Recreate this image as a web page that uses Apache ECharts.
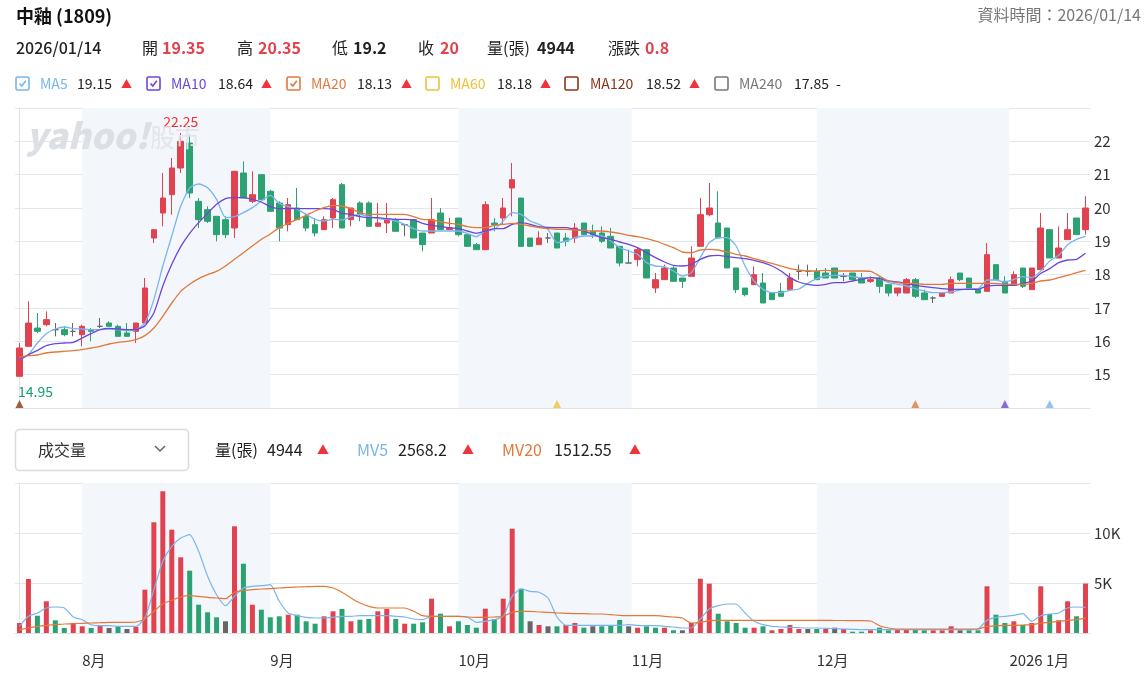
<!DOCTYPE html>
<html>
<head>
<meta charset="utf-8">
<title>中釉 (1809)</title>
<script src="https://cdn.jsdelivr.net/npm/echarts@6/dist/echarts.min.js"></script>
<style>
  html, body { margin: 0; padding: 0; background: #fff; }
  #main { width: 1147px; height: 687px; }
</style>
</head>
<body>
<div id="main"></div>
<script>
// trading days by month
var julDays = [23, 24, 25, 28, 29, 30, 31];
var augDays = [1, 4, 5, 6, 7, 8, 11, 12, 13, 14, 15, 18, 19, 20, 21, 22, 25, 26, 27, 28, 29];
var sepDays = [1, 2, 3, 4, 5, 8, 9, 10, 11, 12, 15, 16, 17, 18, 19, 22, 23, 24, 25, 26, 30];
var octDays = [1, 2, 3, 7, 8, 9, 13, 14, 15, 16, 17, 20, 21, 22, 23, 27, 28, 29, 30, 31];
var novDays = [3, 4, 5, 6, 7, 10, 11, 12, 13, 14, 17, 18, 19, 20, 21, 24, 25, 26, 27, 28];
var decDays = [1, 2, 3, 4, 5, 8, 9, 10, 11, 12, 15, 16, 17, 18, 19, 22, 23, 24, 26, 29, 30, 31];
var janDays = [2, 5, 6, 7, 8, 9, 12, 13, 14];

// month ticks along the bottom
var monthTicks = [[2025, 8, '8月'], [2025, 9, '9月'], [2025, 10, '10月'], [2025, 11, '11月'], [2025, 12, '12月'], [2026, 1, '2026 1月']];
var shadedMonths = [[2025, 8], [2025, 10], [2025, 12]];

var opens = [14.95, 15.85, 16.4, 16.5, 16.35, 16.35, 16.3, 16.2, 16.35, 16.45,
  16.55, 16.45, 16.25, 16.3, 16.55, 19.1, 19.85, 20.4, 21.2, 21.95,
  20.2, 19.95, 19.75, 19.65, 19.4, 21.05, 20.2, 21.0, 20.5, 20.15,
  19.5, 20.0, 19.75, 19.5, 19.35, 19.7, 20.7, 19.65, 20.15, 20.15,
  19.45, 19.55, 19.65, 19.5, 19.65, 19.25, 19.25, 19.85, 19.35, 19.7,
  19.2, 18.9, 18.75, 19.55, 19.7, 20.6, 20.3, 19.1, 18.9, 19.1,
  19.25, 19.1, 19.1, 19.55, 19.3, 19.25, 19.15, 18.85, 18.35, 18.45,
  18.75, 17.6, 17.85, 18.2, 17.9, 17.95, 18.85, 19.8, 19.55, 19.4,
  18.2, 17.6, 17.7, 17.75, 17.45, 17.5, 17.55, 18.1, 18.1, 18.1,
  18.05, 18.2, 17.95, 18.05, 17.9, 17.8, 17.9, 17.7, 17.45, 17.45,
  17.85, 17.45, 17.3, 17.35, 17.45, 18.05, 17.9, 17.55, 17.5, 18.3,
  17.8, 17.7, 18.2, 17.55, 18.15, 19.35, 18.5, 19.05, 19.7, 19.35];
var closes = [15.8, 16.55, 16.3, 16.65, 16.35, 16.2, 16.3, 16.45, 16.3, 16.45,
  16.45, 16.15, 16.15, 16.55, 17.6, 19.35, 20.3, 21.2, 22.0, 20.45,
  19.65, 19.6, 19.2, 19.2, 21.1, 20.3, 20.4, 20.25, 19.9, 19.4,
  20.1, 19.65, 19.4, 19.25, 19.65, 20.25, 19.4, 20.0, 19.8, 19.45,
  19.55, 19.65, 19.3, 19.5, 19.1, 18.9, 19.65, 19.35, 19.4, 19.2,
  18.85, 18.75, 20.1, 19.5, 20.0, 20.85, 18.85, 18.85, 19.1, 19.1,
  18.8, 19.0, 19.4, 19.2, 19.2, 19.0, 18.8, 18.35, 18.35, 18.75,
  17.9, 17.85, 18.2, 17.8, 17.8, 18.5, 19.8, 20.0, 19.1, 18.2,
  17.55, 17.4, 18.0, 17.15, 17.25, 17.35, 17.9, 18.1, 18.1, 17.85,
  17.9, 17.9, 17.95, 17.85, 17.75, 17.85, 17.65, 17.45, 17.6, 17.85,
  17.35, 17.25, 17.3, 17.45, 17.85, 17.85, 17.6, 17.45, 18.6, 17.85,
  17.45, 18.0, 17.65, 18.2, 19.4, 18.5, 18.8, 19.35, 19.2, 20.0];
var lows = [14.95, 15.85, 16.25, 16.45, 16.15, 16.15, 16.15, 15.85, 16.0, 16.4,
  16.45, 16.15, 16.15, 15.95, 16.55, 18.95, 19.45, 19.8, 21.05, 20.3,
  19.4, 19.55, 19.0, 19.1, 19.1, 20.3, 20.15, 20.25, 19.9, 19.0,
  19.3, 19.65, 19.3, 19.15, 19.35, 19.4, 19.4, 19.45, 19.6, 19.45,
  19.45, 19.25, 19.3, 19.15, 19.1, 18.7, 19.25, 19.35, 19.35, 19.15,
  18.85, 18.75, 18.75, 19.3, 19.5, 19.75, 18.85, 18.85, 18.9, 18.95,
  18.8, 18.85, 18.95, 19.2, 19.1, 18.95, 18.8, 18.25, 18.35, 18.25,
  17.9, 17.45, 17.85, 17.8, 17.6, 17.95, 18.85, 19.75, 19.1, 18.2,
  17.45, 17.35, 17.7, 17.15, 17.25, 17.35, 17.55, 17.85, 17.95, 17.85,
  17.9, 17.9, 17.8, 17.85, 17.75, 17.75, 17.45, 17.35, 17.35, 17.45,
  17.3, 17.25, 17.15, 17.35, 17.45, 17.8, 17.6, 17.45, 17.5, 17.85,
  17.45, 17.7, 17.6, 17.55, 18.15, 18.5, 18.5, 19.05, 19.2, 19.2];
var highs = [15.95, 17.2, 16.85, 16.9, 16.55, 16.45, 16.55, 16.5, 16.4, 16.7,
  16.6, 16.5, 16.55, 16.55, 17.9, 19.35, 21.05, 21.5, 22.25, 22.2,
  20.3, 20.05, 19.75, 19.75, 21.1, 21.4, 21.1, 21.0, 20.55, 20.2,
  20.3, 20.6, 19.85, 19.7, 19.75, 20.3, 20.75, 20.0, 20.2, 20.2,
  20.15, 20.15, 19.7, 19.5, 19.65, 19.25, 20.3, 20.0, 19.7, 19.7,
  19.2, 18.95, 20.2, 19.7, 20.3, 21.35, 20.3, 19.1, 19.3, 19.25,
  19.25, 19.25, 19.55, 19.55, 19.5, 19.45, 19.4, 18.85, 18.75, 18.8,
  18.75, 18.05, 18.3, 18.25, 17.9, 18.85, 20.3, 20.75, 20.5, 19.4,
  18.2, 17.6, 18.25, 18.05, 17.45, 17.75, 18.05, 18.3, 18.3, 18.2,
  18.2, 18.2, 18.05, 18.05, 18.05, 17.95, 17.95, 17.7, 17.6, 17.9,
  17.9, 17.55, 17.35, 17.45, 17.95, 18.05, 17.9, 17.55, 18.95, 18.3,
  17.95, 18.1, 18.2, 18.2, 19.85, 19.35, 19.45, 19.85, 19.7, 20.35];

var ma5 = [15.45, 15.6, 15.95, 16.23, 16.37, 16.43, 16.38, 16.37, 16.35, 16.35,
  16.37, 16.35, 16.32, 16.35, 16.55, 17.25, 18.26, 19.16, 20.06, 20.6,
  20.72, 20.61, 20.26, 19.71, 19.74, 19.86, 20.01, 20.21, 20.38, 20.14,
  20.04, 19.96, 19.81, 19.66, 19.61, 19.66, 19.64, 19.74, 19.81, 19.74,
  19.68, 19.66, 19.61, 19.51, 19.38, 19.31, 19.31, 19.31, 19.31, 19.31,
  19.24, 19.14, 19.31, 19.36, 19.61, 19.86, 19.81, 19.61, 19.51, 19.35,
  18.96, 19.01, 19.11, 19.16, 19.16, 19.16, 19.01, 18.81, 18.71, 18.61,
  18.36, 18.26, 18.24, 18.11, 17.96, 18.06, 18.51, 18.96, 19.11, 19.11,
  18.86, 18.26, 17.81, 17.56, 17.46, 17.46, 17.53, 17.57, 17.74, 17.88,
  17.96, 17.98, 17.98, 17.94, 17.91, 17.91, 17.88, 17.76, 17.71, 17.66,
  17.58, 17.51, 17.46, 17.46, 17.48, 17.54, 17.58, 17.58, 17.84, 17.84,
  17.78, 17.86, 17.94, 17.91, 18.11, 18.41, 18.58, 18.9, 19.06, 19.15];
var ma10 = [15.45, 15.6, 15.73, 15.87, 15.93, 15.95, 15.97, 16.1, 16.23, 16.35,
  16.39, 16.37, 16.35, 16.35, 16.47, 16.85, 17.66, 18.31, 18.84, 19.24,
  19.56, 19.84, 20.11, 20.28, 20.31, 20.31, 20.26, 20.18, 20.04, 19.98,
  19.98, 19.98, 19.98, 19.98, 19.98, 19.96, 19.84, 19.81, 19.74, 19.71,
  19.71, 19.68, 19.66, 19.66, 19.64, 19.54, 19.48, 19.44, 19.41, 19.38,
  19.31, 19.24, 19.31, 19.38, 19.38, 19.51, 19.56, 19.51, 19.44, 19.42,
  19.41, 19.41, 19.36, 19.31, 19.21, 19.11, 19.06, 18.98, 18.91, 18.81,
  18.66, 18.51, 18.38, 18.28, 18.26, 18.31, 18.46, 18.56, 18.58, 18.54,
  18.51, 18.48, 18.43, 18.36, 18.26, 18.11, 17.91, 17.78, 17.71, 17.68,
  17.71, 17.76, 17.76, 17.81, 17.86, 17.91, 17.88, 17.81, 17.78, 17.74,
  17.68, 17.64, 17.61, 17.58, 17.56, 17.56, 17.56, 17.56, 17.66, 17.68,
  17.68, 17.68, 17.74, 17.81, 18.04, 18.18, 18.36, 18.44, 18.46, 18.64];
var ma20 = [15.52, 15.57, 15.59, 15.65, 15.68, 15.7, 15.72, 15.75, 15.8, 15.85,
  15.92, 15.97, 16.0, 16.05, 16.17, 16.4, 16.75, 17.15, 17.5, 17.71,
  17.88, 18.0, 18.1, 18.26, 18.46, 18.66, 18.86, 19.06, 19.22, 19.41,
  19.54, 19.66, 19.78, 19.91, 20.01, 20.08, 20.06, 19.98, 19.86, 19.81,
  19.81, 19.81, 19.81, 19.81, 19.74, 19.66, 19.64, 19.58, 19.54, 19.51,
  19.44, 19.41, 19.41, 19.48, 19.51, 19.54, 19.51, 19.46, 19.41, 19.38,
  19.36, 19.36, 19.34, 19.33, 19.31, 19.31, 19.28, 19.24, 19.18, 19.14,
  19.08, 19.01, 18.91, 18.81, 18.68, 18.66, 18.74, 18.76, 18.74, 18.68,
  18.61, 18.56, 18.48, 18.41, 18.34, 18.26, 18.18, 18.14, 18.11, 18.11,
  18.13, 18.11, 18.11, 18.11, 18.11, 18.1, 17.96, 17.81, 17.76, 17.74,
  17.74, 17.71, 17.71, 17.71, 17.74, 17.74, 17.74, 17.74, 17.74, 17.74,
  17.71, 17.71, 17.71, 17.74, 17.81, 17.84, 17.91, 17.98, 18.06, 18.13];

// 量(張)
var volumes = [1000, 5400, 1730, 3170, 1270, 500, 1000, 670, 500, 730,
  500, 670, 400, 600, 4330, 11070, 14170, 10330, 7570, 6230,
  2830, 2070, 1570, 1170, 10670, 6930, 2830, 2330, 1570, 1670,
  1830, 1830, 1170, 930, 1670, 2170, 2400, 1170, 1330, 1400,
  2170, 2400, 1400, 930, 930, 1070, 3430, 1930, 670, 1170,
  800, 530, 2430, 1400, 3430, 10430, 4430, 1170, 800, 670,
  670, 800, 1000, 530, 670, 670, 800, 1300, 670, 530,
  670, 530, 530, 270, 270, 1000, 5430, 4930, 1930, 1170,
  1000, 530, 530, 670, 270, 400, 800, 400, 400, 400,
  400, 530, 400, 130, 130, 270, 530, 270, 400, 400,
  400, 270, 270, 270, 670, 270, 270, 270, 4670, 1830,
  1000, 1170, 800, 1000, 4670, 1900, 1270, 3170, 1670, 4944];
// change vs previous close: 1 up, -1 down, 0 flat
var volumeDir = [1, 1, -1, 1, -1, -1, 1, 1, -1, 1,
  0, -1, 0, 1, 1, 1, 1, 1, 1, -1,
  -1, -1, -1, 0, 1, -1, 1, -1, -1, -1,
  1, -1, -1, -1, 1, 1, -1, 1, -1, -1,
  1, 1, -1, 1, -1, -1, 1, -1, 1, -1,
  -1, -1, 1, -1, 1, 1, -1, 0, 1, 0,
  -1, 1, 1, -1, 0, -1, -1, -1, 0, 1,
  -1, -1, 1, -1, 0, 1, 1, 1, -1, -1,
  -1, -1, 1, -1, 1, 1, 1, 1, 0, -1,
  1, 0, 1, -1, -1, 1, -1, -1, 1, 1,
  -1, -1, 1, 1, 1, 0, -1, -1, 1, -1,
  -1, 1, -1, 1, 1, -1, 1, 1, -1, 1];
var mv5 = [670, 1670, 2000, 2500, 2600, 2500, 1600, 1330, 830, 730,
  730, 670, 670, 670, 1500, 4330, 7170, 8670, 9500, 9830,
  8170, 5670, 3830, 2730, 3670, 4500, 4670, 4730, 4830, 3170,
  2000, 1730, 1570, 1500, 1500, 1570, 1670, 1670, 1730, 1730,
  1730, 1730, 1670, 1600, 1400, 1330, 1670, 1670, 1670, 1670,
  1600, 1070, 1170, 1330, 1670, 3670, 4400, 4170, 4070, 3500,
  1600, 770, 770, 770, 770, 770, 770, 770, 830, 770,
  730, 730, 670, 600, 500, 500, 1400, 2400, 2730, 2900,
  2900, 2000, 1170, 830, 670, 600, 570, 530, 500, 500,
  470, 430, 400, 370, 330, 330, 330, 330, 330, 330,
  330, 330, 330, 330, 330, 330, 330, 400, 1270, 1570,
  1670, 1770, 1930, 1170, 1730, 1900, 2000, 2500, 2600, 2568.2];
var mv20 = [330, 500, 670, 770, 830, 900, 930, 970, 1000, 1030,
  1070, 1070, 1070, 1100, 1400, 2170, 2930, 3270, 3600, 3730,
  3670, 3570, 3500, 3430, 4070, 4270, 4330, 4400, 4430, 4500,
  4570, 4600, 4630, 4670, 4670, 4500, 4070, 3500, 3000, 2670,
  2500, 2500, 2500, 2500, 2170, 1730, 1670, 1670, 1670, 1670,
  1600, 1570, 1570, 1600, 1670, 2070, 2170, 2170, 2100, 2070,
  2000, 1970, 1930, 1930, 1900, 1900, 1830, 1770, 1730, 1730,
  1730, 1730, 1670, 1600, 1500, 1000, 1070, 1230, 1270, 1270,
  1270, 1270, 1270, 1270, 1270, 1270, 1270, 1270, 1270, 1270,
  1270, 1250, 1250, 1230, 1230, 1200, 730, 500, 400, 400,
  400, 400, 400, 400, 400, 400, 400, 400, 670, 730,
  770, 770, 800, 830, 1000, 1070, 1170, 1270, 1330, 1512.55];

// MA signal markers under the candles
var signalIdx = [0, 60, 100, 110, 115];
var signalMA = ['MA120', 'MA60', 'MA20', 'MA10', 'MA5'];

var FONT = "'Noto Sans CJK TC', 'Noto Sans', sans-serif";
var RED = '#e0434f', GREEN = '#2ca273', GRAY = '#666666';
var maColors = { MA5: '#78b5ee', MA10: '#6b46d9', MA20: '#e2793a', MA60: '#f0c03c', MA120: '#8c3418', MA240: '#777777' };

var dates = [];
function addMonth(y, m, days) {
  days.forEach(function (d) {
    dates.push(y + '/' + (m < 10 ? '0' + m : m) + '/' + (d < 10 ? '0' + d : d));
  });
}
addMonth(2025, 7, julDays); addMonth(2025, 8, augDays); addMonth(2025, 9, sepDays);
addMonth(2025, 10, octDays); addMonth(2025, 11, novDays); addMonth(2025, 12, decDays);
addMonth(2026, 1, janDays);

// position of the 1st of a month on the trading-day axis
function monthPos(y, m) {
  var first = new Date(y, m - 1, 1).getTime();
  for (var i = 0; i < dates.length; i++) {
    var p = dates[i].split('/');
    var t = new Date(+p[0], +p[1] - 1, +p[2]).getTime();
    if (t >= first) {
      if (t === first || i === 0) return i;
      var q = dates[i - 1].split('/');
      var t0 = new Date(+q[0], +q[1] - 1, +q[2]).getTime();
      return i - 1 + (first - t0) / (t - t0);
    }
  }
  return dates.length - 0.5;
}
var tickPos = monthTicks.map(function (t) { return monthPos(t[0], t[1]); });
var bands = shadedMonths.map(function (s) {
  var ny = s[1] === 12 ? s[0] + 1 : s[0], nm = s[1] === 12 ? 1 : s[1] + 1;
  return [{ xAxis: monthPos(s[0], s[1]) }, { xAxis: monthPos(ny, nm) }];
});

var candleData = opens.map(function (o, i) { return [o, closes[i], lows[i], highs[i]]; });
var volData = volumes.map(function (v, i) {
  return { value: v, itemStyle: { color: volumeDir[i] > 0 ? RED : (volumeDir[i] < 0 ? GREEN : GRAY) } };
});
var signalData = signalIdx.map(function (i, k) {
  return { value: [i, 14], itemStyle: { color: maColors[signalMA[k]] } };
});

function T(x, y, text, color, size, weight, align) {
  return {
    type: 'text', x: x, y: y, silent: true, z: 10,
    style: { text: text, fill: color, font: (weight || 'normal') + ' ' + size + 'px ' + FONT,
      textAlign: align || 'left', textVerticalAlign: 'middle' }
  };
}
function box(x, y, color, checked) {
  var els = [{ type: 'rect', x: x, y: y, shape: { width: 13, height: 13, r: 1.5 },
    style: { fill: '#fff', stroke: color, lineWidth: 1.6 }, silent: true, z: 10 }];
  if (checked) {
    els.push({ type: 'polyline', x: x, y: y, shape: { points: [[3.5, 6.5], [5.8, 9], [9.8, 3.8]] },
      style: { stroke: color, lineWidth: 1.6, fill: null }, silent: true, z: 10 });
  }
  return els;
}

var legendRow = [
  ['MA5', '19.15', true, 16, 40, 77, 121],
  ['MA10', '18.64', true, 147, 171, 218, 261],
  ['MA20', '18.13', true, 287, 311, 357, 401],
  ['MA60', '18.18', false, 426, 450, 497, 540],
  ['MA120', '18.52', false, 565, 590, 646, 689],
  ['MA240', '17.85', false, 715, 739, 794, 836]
];

var graphics = [
  T(26, 136, 'yahoo!', '#dcdfe4', 35, 'italic 900'),
  T(150, 137, '股市', '#e3e5e9', 25, 'normal'),
  T(16, 16, '中釉 (1809)', '#111', 18, 'bold'),
  T(1141, 15, '資料時間：2026/01/14', '#777', 16, 'normal', 'right'),
  T(16, 48, '2026/01/14', '#222', 16, '500'),
  T(142, 48, '開', '#222', 16), T(162, 48, '19.35', RED, 16, 'bold'),
  T(237, 48, '高', '#222', 16), T(258, 48, '20.35', RED, 16, 'bold'),
  T(332, 48, '低', '#222', 16), T(353, 48, '19.2', '#222', 16, 'bold'),
  T(418, 48, '收', '#222', 16), T(440, 48, '20', RED, 16, 'bold'),
  T(487, 48, '量(張)', '#222', 16), T(537, 48, '4944', '#222', 16, 'bold'),
  T(608, 48, '漲跌', '#222', 16), T(645, 48, '0.8', RED, 16, 'bold'),
  { type: 'rect', x: 15.5, y: 429.5, shape: { width: 173, height: 41, r: 4 },
    style: { fill: '#fff', stroke: '#d8dbe0', lineWidth: 1.5 }, silent: true, z: 10 },
  T(38, 450, '成交量', '#333', 16),
  { type: 'polyline', x: 155, y: 446, shape: { points: [[0, 0], [5, 5], [10, 0]] },
    style: { stroke: '#666', lineWidth: 1.5, fill: null }, silent: true, z: 10 },
  T(215, 450, '量(張)', '#222', 16), T(267, 450, '4944', '#222', 16), T(317, 450, '▲', '#f0323c', 12),
  T(357, 450, 'MV5', maColors.MA5, 16), T(398, 450, '2568.2', '#222', 16), T(462, 450, '▲', '#f0323c', 12),
  T(502, 450, 'MV20', maColors.MA20, 16), T(554, 450, '1512.55', '#222', 16), T(629, 450, '▲', '#f0323c', 12)
];
legendRow.forEach(function (r) {
  graphics = graphics.concat(box(r[3], 77, maColors[r[0]], r[2]));
  graphics.push(T(r[4], 84, r[0], maColors[r[0]], 14));
  graphics.push(T(r[5], 84, r[1], '#222', 14));
  graphics.push(r[0] === 'MA240' ? T(r[6], 84, '-', '#222', 14) : T(r[6], 84, '▲', '#f0323c', 11));
});

var chart = echarts.init(document.getElementById('main'));

var lineStyleOf = function (c) { return { color: c, width: 1.3 }; };

var option = {
  animation: false,
  backgroundColor: '#fff',
  textStyle: { fontFamily: FONT },
  graphic: graphics,
  grid: [
    { left: 15, right: 57, top: 108, height: 300 },
    { left: 15, right: 57, top: 483, height: 150 }
  ],
  xAxis: [
    { type: 'category', gridIndex: 0, data: dates, boundaryGap: true,
      axisLine: { lineStyle: { color: '#dfe2e7' } }, axisTick: { show: false }, axisLabel: { show: false } },
    { type: 'category', gridIndex: 1, data: dates, boundaryGap: true,
      axisLine: { lineStyle: { color: '#dfe2e7' } }, axisTick: { show: false }, axisLabel: { show: false } },
    { type: 'value', gridIndex: 1, min: -0.5, max: dates.length - 0.5, position: 'bottom',
      axisLine: { show: false }, axisTick: { show: false }, splitLine: { show: false },
      axisLabel: {
        customValues: tickPos, align: 'left', margin: 20, fontSize: 15, color: '#333',
        formatter: function (v) {
          for (var i = 0; i < tickPos.length; i++) {
            if (Math.abs(tickPos[i] - v) < 0.01) return monthTicks[i][2];
          }
          return '';
        }
      } },
    { type: 'value', gridIndex: 0, min: -0.5, max: dates.length - 0.5, show: false }
  ],
  yAxis: [
    { type: 'value', gridIndex: 0, position: 'right', min: 14, max: 23, interval: 1,
      axisLine: { show: true, lineStyle: { color: '#dfe2e7' } }, axisTick: { show: false },
      splitLine: { lineStyle: { color: '#e3e6ea', width: 1.2 } },
      axisLabel: { margin: 4, fontSize: 15, color: '#333',
        formatter: function (v) { return (v > 14 && v < 23) ? String(v) : ''; } } },
    { type: 'value', gridIndex: 1, position: 'right', min: 0, max: 15000, interval: 5000,
      axisLine: { show: true, lineStyle: { color: '#dfe2e7' } }, axisTick: { show: false },
      splitLine: { lineStyle: { color: '#e3e6ea', width: 1.2 } },
      axisLabel: { margin: 4, fontSize: 15, color: '#333',
        formatter: function (v) { return (v > 0 && v < 15000) ? (v / 1000) + 'K' : ''; } } }
  ],
  series: [
    { type: 'line', xAxisIndex: 3, yAxisIndex: 0, data: [], z: -1, silent: true,
      markArea: { silent: true, itemStyle: { color: '#f3f6fa' }, data: bands } },
    { type: 'line', xAxisIndex: 2, yAxisIndex: 1, data: [], z: -1, silent: true,
      markArea: { silent: true, itemStyle: { color: '#f3f6fa' }, data: bands } },
    { name: 'K', type: 'candlestick', xAxisIndex: 0, yAxisIndex: 0, data: candleData, barWidth: 6,
      itemStyle: { color: RED, color0: GREEN, borderColor: RED, borderColor0: GREEN,
        borderColorDoji: GRAY, borderWidth: 1 },
      markPoint: {
        symbol: 'circle', symbolSize: 0, silent: true,
        data: [
          { type: 'max', valueDim: 'highest',
            label: { show: true, position: 'top', distance: 4, color: '#f0323c', fontSize: 14,
              formatter: function (p) { return p.value; } } },
          { type: 'min', valueDim: 'lowest',
            label: { show: true, position: 'bottom', distance: 8, offset: [16, 0], color: '#13a06b', fontSize: 14,
              formatter: function (p) { return p.value; } } }
        ]
      } },
    { name: 'MA5', type: 'line', xAxisIndex: 0, yAxisIndex: 0, data: ma5, symbol: 'none', smooth: 0.2,
      lineStyle: lineStyleOf(maColors.MA5) },
    { name: 'MA10', type: 'line', xAxisIndex: 0, yAxisIndex: 0, data: ma10, symbol: 'none', smooth: 0.2,
      lineStyle: lineStyleOf(maColors.MA10) },
    { name: 'MA20', type: 'line', xAxisIndex: 0, yAxisIndex: 0, data: ma20, symbol: 'none', smooth: 0.2,
      lineStyle: lineStyleOf(maColors.MA20) },
    { type: 'scatter', xAxisIndex: 0, yAxisIndex: 0, data: signalData, symbol: 'triangle',
      symbolSize: [8, 8], symbolOffset: [0, -4], clip: false, silent: true },
    { name: '量', type: 'bar', xAxisIndex: 1, yAxisIndex: 1, data: volData, barWidth: 5 },
    { name: 'MV5', type: 'line', xAxisIndex: 1, yAxisIndex: 1, data: mv5, symbol: 'none', smooth: 0.2,
      lineStyle: { color: maColors.MA5, width: 1.2 } },
    { name: 'MV20', type: 'line', xAxisIndex: 1, yAxisIndex: 1, data: mv20, symbol: 'none', smooth: 0.2,
      lineStyle: { color: maColors.MA20, width: 1.2 } }
  ]
};

chart.setOption(option);
</script>
</body>
</html>
